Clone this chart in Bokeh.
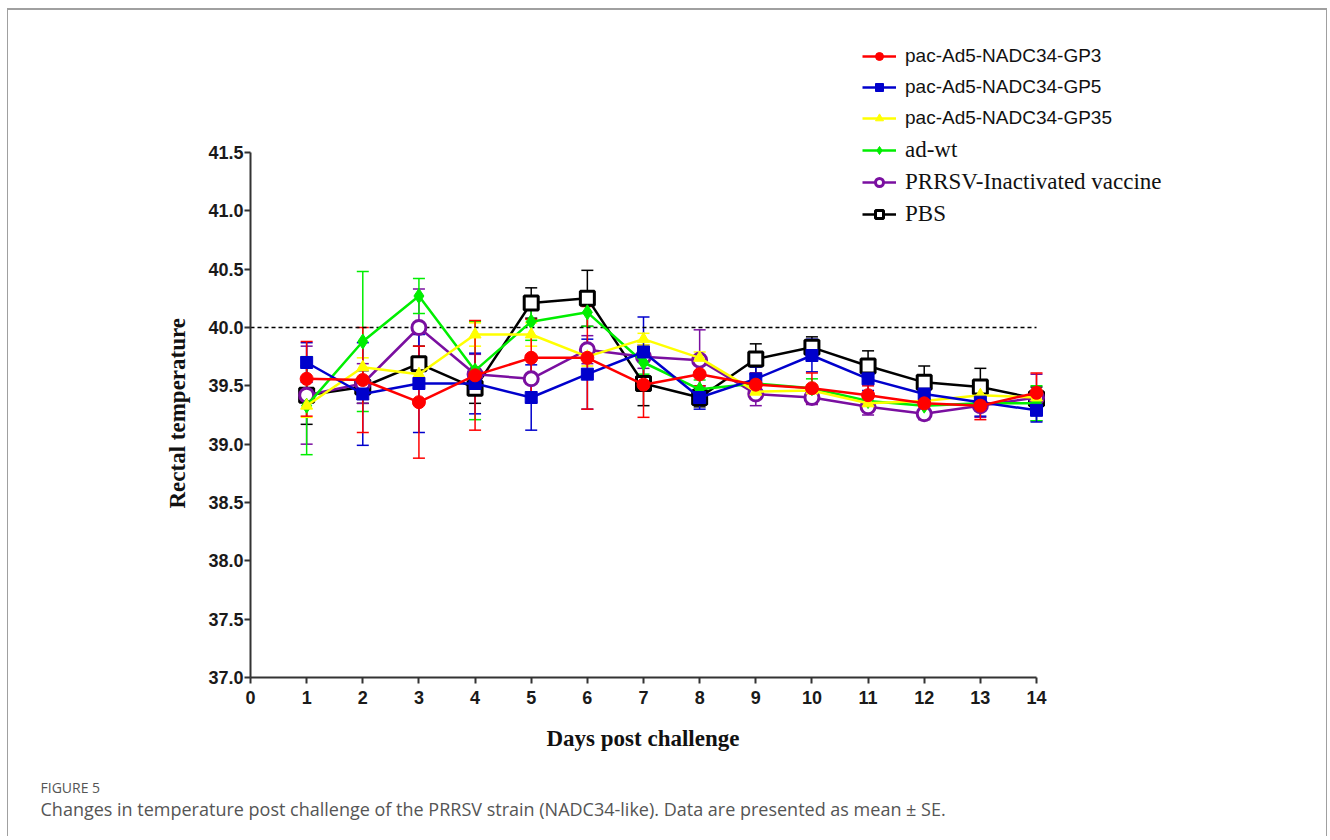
from bokeh.plotting import figure
from bokeh.models import (Whisker, ColumnDataSource, Legend, LegendItem, Title,
                          FixedTicker, NumeralTickFormatter, Range1d, TeeHead)
from bokeh.embed import file_html
from bokeh.resources import INLINE

days = list(range(1, 15))

gp3 = [39.56, 39.55, 39.36, 39.59, 39.74, 39.74, 39.51, 39.60, 39.51, 39.48, 39.42, 39.35, 39.33, 39.44]
gp3_se = [0.32, 0.45, 0.48, 0.47, 0.33, 0.44, 0.28, 0.10, 0.10, 0.13, 0.08, 0.10, 0.12, 0.17]

gp5 = [39.70, 39.43, 39.52, 39.52, 39.40, 39.60, 39.79, 39.40, 39.56, 39.76, 39.56, 39.43, 39.36, 39.29]
gp5_se = [0.17, 0.44, 0.42, 0.26, 0.28, 0.30, 0.30, 0.10, 0.10, 0.14, 0.10, 0.10, 0.12, 0.10]

gp35 = [39.33, 39.66, 39.60, 39.94, 39.94, 39.75, 39.90, 39.74, 39.45, 39.46, 39.35, 39.37, 39.42, 39.40]
gp35_se = [0.10, 0.08, 0.10, 0.10, 0.10, 0.08, 0.05, 0.05, 0.05, 0.05, 0.05, 0.05, 0.05, 0.05]

adwt = [39.33, 39.88, 40.27, 39.63, 40.05, 40.13, 39.70, 39.47, 39.52, 39.48, 39.37, 39.33, 39.35, 39.35]
adwt_se = [0.42, 0.60, 0.15, 0.42, 0.16, 0.12, 0.10, 0.08, 0.08, 0.08, 0.06, 0.06, 0.06, 0.15]

prrsv = [39.42, 39.52, 40.00, 39.60, 39.56, 39.81, 39.75, 39.72, 39.43, 39.40, 39.32, 39.26, 39.33, 39.40]
prrsv_se = [0.42, 0.17, 0.33, 0.17, 0.20, 0.12, 0.10, 0.26, 0.10, 0.06, 0.07, 0.05, 0.10, 0.20]

pbs = [39.42, 39.49, 39.69, 39.48, 40.21, 40.25, 39.52, 39.40, 39.73, 39.83, 39.67, 39.53, 39.49, 39.39]
pbs_se = [0.25, 0.14, 0.15, 0.13, 0.13, 0.24, 0.19, 0.08, 0.13, 0.09, 0.13, 0.14, 0.16, 0.10]

names = ["pac-Ad5-NADC34-GP3", "pac-Ad5-NADC34-GP5", "pac-Ad5-NADC34-GP35",
         "ad-wt", "PRRSV-Inactivated vaccine", "PBS"]
y_ticks = [37.0, 37.5, 38.0, 38.5, 39.0, 39.5, 40.0, 40.5, 41.0, 41.5]
x_ticks = list(range(0, 15))
threshold = 40.0
x_label = "Days post challenge"
y_label = "Rectal temperature"
fig_label = "FIGURE 5"
caption = ("Changes in temperature post challenge of the PRRSV strain (NADC34-like). "
           "Data are presented as mean \u00b1 SE.")

series = {
    "gp3": dict(v=gp3, se=gp3_se, color="#ff0000", marker="circle", size=13, fill="#ff0000", mlw=1),
    "gp5": dict(v=gp5, se=gp5_se, color="#0000cc", marker="square", size=12, fill="#0000cc", mlw=1),
    "gp35": dict(v=gp35, se=gp35_se, color="#ffff00", marker="triangle", size=12, fill="#ffff00", mlw=1),
    "adwt": dict(v=adwt, se=adwt_se, color="#00ee00", marker="diamond", size=15, fill="#00ee00", mlw=1),
    "prrsv": dict(v=prrsv, se=prrsv_se, color="#7a0fa0", marker="circle", size=14, fill="white", mlw=3),
    "pbs": dict(v=pbs, se=pbs_se, color="#000000", marker="square", size=14, fill="white", mlw=3),
}

# layout (canvas pixels)
CW, CH = 1320, 828
FL, FR, FT, FB = 242, 78, 20, 161
frame_w = CW - FL - FR
frame_h = CH - FT - FB
x0, x1 = x_ticks[0], x_ticks[-1]
y0, y1 = y_ticks[0], y_ticks[-1]
x_end = x0 + (x1 - x0) * frame_w / 786.0
y_end = y0 + (y1 - y0) * frame_h / 525.0

p = figure(width=CW, height=CH, output_backend="svg", toolbar_location=None,
           x_range=Range1d(x0, x_end), y_range=Range1d(y0, y_end),
           min_border_left=FL, min_border_right=FR, min_border_top=FT, min_border_bottom=FB)
p.styles = {"margin": "8px 0px 0px 7px", "border-top": "2px solid #a0a0a0",
            "border-left": "1px solid #a0a0a0", "border-right": "1px solid #a0a0a0"}
p.outline_line_color = None
p.xgrid.visible = False
p.ygrid.visible = False
p.background_fill_color = "white"
p.border_fill_color = "white"

p.line(x=[x0, x1], y=[threshold, threshold], line_color="black", line_width=1.5, line_dash="4 3")

renderers = {}
order = ["pbs", "prrsv", "adwt", "gp35", "gp5", "gp3"]
for key in order:
    s = series[key]
    lo = [v - e for v, e in zip(s["v"], s["se"])]
    hi = [v + e for v, e in zip(s["v"], s["se"])]
    src = ColumnDataSource(dict(x=days, y=s["v"], lower=lo, upper=hi))
    w = Whisker(base="x", upper="upper", lower="lower", source=src,
                line_color=s["color"], line_width=1.5,
                upper_head=TeeHead(size=12, line_color=s["color"], line_width=1.5),
                lower_head=TeeHead(size=12, line_color=s["color"], line_width=1.5))
    p.add_layout(w)
for key in order:
    s = series[key]
    src = ColumnDataSource(dict(x=days, y=s["v"]))
    ln = p.line("x", "y", source=src, line_color=s["color"], line_width=2.5)
    sc = p.scatter("x", "y", source=src, marker=s["marker"], size=s["size"],
                   fill_color=s["fill"], line_color=s["color"], line_width=s["mlw"])
    renderers[key] = [ln, sc]

keys = ["gp3", "gp5", "gp35", "adwt", "prrsv", "pbs"]
items1 = [LegendItem(label=names[i], renderers=renderers[keys[i]]) for i in range(3)]
items2 = [LegendItem(label=names[i], renderers=renderers[keys[i]]) for i in range(3, 6)]
leg1 = Legend(items=items1, location=(612, 548), label_text_font="Liberation Sans",
              label_text_font_size="19px", label_text_color="#111111",
              glyph_width=34, glyph_height=20, label_height=20, spacing=9,
              label_standoff=9, padding=0, margin=0, border_line_color=None,
              background_fill_alpha=0)
leg2 = Legend(items=items2, location=(612, 450), label_text_font="Liberation Serif",
              label_text_font_size="23px", label_text_color="#111111",
              glyph_width=34, glyph_height=20, label_height=20, spacing=6,
              label_standoff=9, padding=0, margin=0, border_line_color=None,
              background_fill_alpha=0)
p.add_layout(leg1)
p.add_layout(leg2)

for ax in (p.xaxis[0], p.yaxis[0]):
    ax.axis_line_width = 2
    ax.axis_line_color = "#333333"
    ax.major_tick_line_width = 2
    ax.major_tick_line_color = "#333333"
    ax.major_tick_in = 0
    ax.major_tick_out = 6
    ax.minor_tick_line_color = None
    ax.major_label_text_font = "Liberation Sans"
    ax.major_label_text_font_style = "bold"
    ax.major_label_text_font_size = "18px"
    ax.major_label_text_color = "#1a1a1a"

p.xaxis.bounds = (x0, x1)
p.yaxis.bounds = (y0, y1)
p.xaxis.ticker = FixedTicker(ticks=x_ticks)
p.yaxis.ticker = FixedTicker(ticks=y_ticks)
p.yaxis.formatter = NumeralTickFormatter(format="0.0")
p.xaxis.major_label_standoff = 7
p.yaxis.major_label_standoff = 1

# axis titles positioned relative to the axis bounds (frame is wider for the legend)
p.add_layout(Title(text=y_label, align="left", offset=169, standoff=32,
                   text_font="Liberation Serif", text_font_style="bold",
                   text_font_size="23px", text_color="#111111"), "left")
p.add_layout(Title(text=x_label, align="left", offset=296, standoff=35,
                   text_font="Liberation Serif", text_font_style="bold",
                   text_font_size="23px", text_color="#111111"), "below")
p.add_layout(Title(text=fig_label, align="left", offset=-210, standoff=15,
                   text_font="Open Sans", text_font_size="14px", text_font_style="normal",
                   text_color="#555555"), "below")
p.add_layout(Title(text=caption, align="left", offset=-210, standoff=-19,
                   text_font="Open Sans", text_font_size="18px", text_font_style="normal",
                   text_color="#555555"), "below")

open("out.html", "w").write(file_html(p, INLINE))
